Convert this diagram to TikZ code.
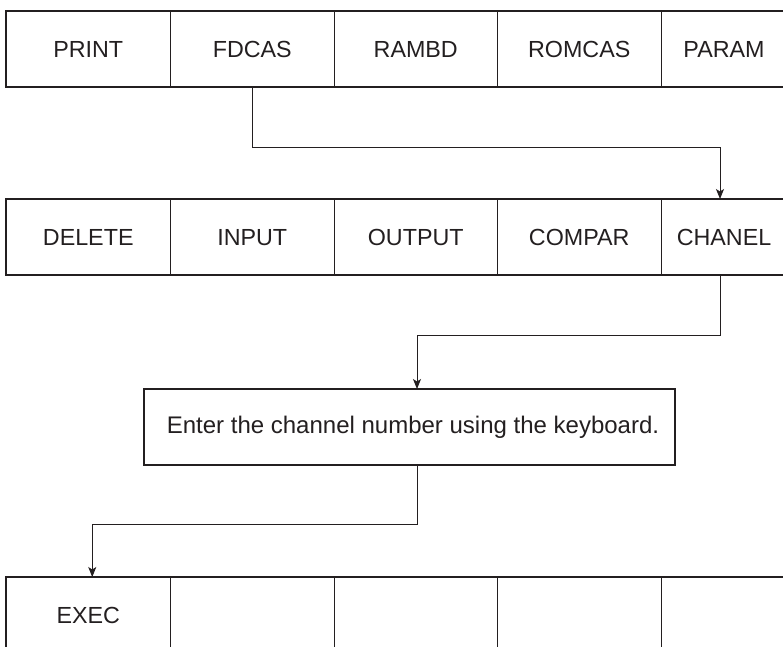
\documentclass[tikz,border=0pt]{standalone}
\usepackage{fontspec}
\setmainfont{Liberation Sans}
\usetikzlibrary{arrows.meta}
\definecolor{ink}{HTML}{231F20}
\begin{document}
\begin{tikzpicture}[x=1pt,y=-1pt,
  cell/.style={draw=ink, line width=0.9pt, minimum height=76pt, inner sep=0pt, outer sep=0pt,
    text height=16.7pt, text depth=0pt,
    font=\fontsize{23.3}{27}\selectfont, text=ink, anchor=north west},
  frame/.style={draw=ink, line width=2.2pt, line join=miter},
  textbox/.style={draw=ink, line width=2.2pt, minimum height=76pt, minimum width=531pt, inner sep=0pt, outer sep=0pt,
    font=\fontsize{24}{28}\selectfont, text=ink},
  conn/.style={draw=ink, line width=1pt, -{Stealth[length=10pt,width=8pt,inset=2.5pt]}}]
\useasboundingbox (0,0) rectangle (783,646);
\clip (0,0) rectangle (783,646);
% row 1
\node[cell, minimum width=164.5pt] (print)  at (6,11)     {PRINT};
\node[cell, minimum width=163.5pt] (fdcas)  at (170.5,11) {FDCAS};
\node[cell, minimum width=163.5pt] (rambd)  at (334,11)   {RAMBD};
\node[cell, minimum width=163.5pt] (romcas) at (497.5,11) {ROMCAS};
\node[cell, minimum width=126pt]   (param)  at (661,11)   {PARAM};
\draw[frame] (param.north east) -- (print.north west) -- (print.south west) -- (param.south east);
% row 2
\node[cell, minimum width=164.5pt] (delete) at (6,199)     {DELETE};
\node[cell, minimum width=163.5pt] (input)  at (170.5,199) {INPUT};
\node[cell, minimum width=163.5pt] (output) at (334,199)   {OUTPUT};
\node[cell, minimum width=163.5pt] (compar) at (497.5,199) {COMPAR};
\node[cell, minimum width=126pt]   (chanel) at (661,199)   {CHANEL};
\draw[frame] (chanel.north east) -- (delete.north west) -- (delete.south west) -- (chanel.south east);
% enter box
\node[textbox] (enter) at (409.5,427) {\hspace*{7pt}Enter the channel number using the keyboard.};
% row 3
\node[cell, minimum width=164.5pt] (exec)  at (6,577)     {EXEC};
\node[cell, minimum width=163.5pt] (blanka) at (170.5,577) {};
\node[cell, minimum width=163.5pt] (blankb) at (334,577)   {};
\node[cell, minimum width=163.5pt] (blankc) at (497.5,577) {};
\node[cell, minimum width=126pt]   (blankd) at (661,577)   {};
\draw[frame] (exec.south west) -- (exec.north west) -- (blankd.north east);
% connectors
\draw[conn] (fdcas.south) -- ++(0,60) -| ([xshift=-4pt]chanel.north);
\draw[conn] ([xshift=-4pt]chanel.south) -- ++(0,60) -| ([xshift=7.5pt]enter.north);
\draw[conn] ([xshift=7.5pt]enter.south) -- ++(0,59) -| ([xshift=4pt]exec.north);
\end{tikzpicture}
\end{document}
